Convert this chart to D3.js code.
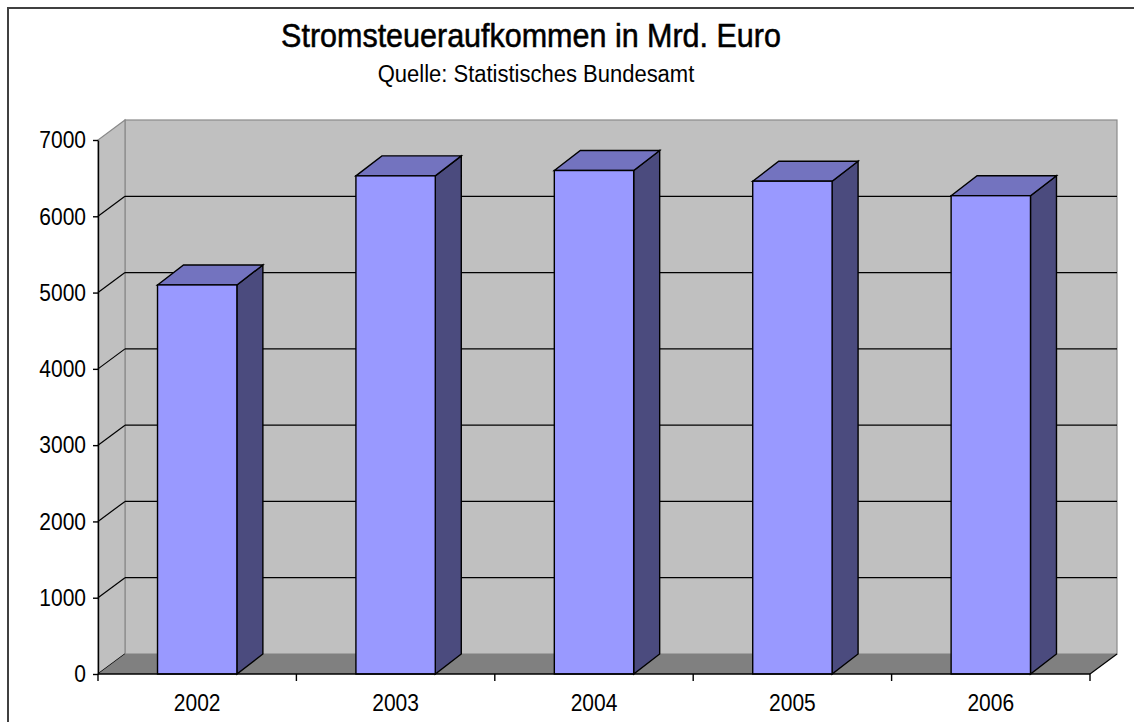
<!DOCTYPE html>
<html>
<head>
<meta charset="utf-8">
<script src="https://cdn.jsdelivr.net/npm/d3@7"></script>
<style>
  body { margin: 0; background: #fff; }
  text { font-family: "Liberation Sans", Arial, sans-serif; }
</style>
</head>
<body>
<div id="chart"></div>
<script>
// data
var years = ["2002", "2003", "2004", "2005", "2006"];
var values = [5100, 6530, 6600, 6460, 6270];
var yTicks = [0, 1000, 2000, 3000, 4000, 5000, 6000, 7000];

var W = 1134, H = 722;
var x0 = 98, x1 = 1090;   // front edge of the floor
var yBase = 674, yTop = 140;
var dx = 27, dy = -20;     // 3d depth of the walls
var bdx = 26, bdy = -20;   // 3d depth of the bars
var stretch = 1.15;        // the original picture is a bit taller than wide

var wallColor = "#c0c0c0", floorColor = "#808080";
var frontColor = "#9999ff", topColor = "#7373bf", sideColor = "#4b4b7e";

var svg = d3.select("#chart").append("svg")
    .attr("width", W)
    .attr("height", H);

// outer frame
svg.append("rect")
    .attr("x", 8).attr("y", 8)
    .attr("width", W + 20).attr("height", H + 20)
    .attr("fill", "none")
    .attr("stroke", "#404040")
    .attr("stroke-width", 2);

var x = d3.scaleBand().domain(years).range([x0, x1]).padding(0);
var y = d3.scaleLinear().domain([0, 7000]).range([yBase, yTop]);
var barW = x.bandwidth() / 2.5;

function pts(a) { return a.map(function(p) { return p.join(","); }).join(" "); }

// back wall
svg.append("rect")
    .attr("x", x0 + dx).attr("y", y(7000) + dy)
    .attr("width", x1 - x0).attr("height", y(0) - y(7000))
    .attr("fill", wallColor)
    .attr("stroke", "#8a8a8a").attr("stroke-width", 1.2);

// side wall
svg.append("polygon")
    .attr("points", pts([[x0, y(0)], [x0, y(7000)], [x0 + dx, y(7000) + dy], [x0 + dx, y(0) + dy]]))
    .attr("fill", wallColor)
    .attr("stroke", "#8a8a8a").attr("stroke-width", 1.2);

// gridlines: back wall + side wall
var grid = yTicks.filter(function(d) { return d > 0 && d < 7000; });
svg.selectAll("line.gridBack")
    .data(grid).enter().append("line")
    .attr("class", "gridBack")
    .attr("x1", x0 + dx).attr("x2", x1 + dx)
    .attr("y1", function(d) { return y(d) + dy; })
    .attr("y2", function(d) { return y(d) + dy; })
    .attr("stroke", "#000").attr("stroke-width", 1.3);
svg.selectAll("line.gridSide")
    .data(grid.concat([0])).enter().append("line")
    .attr("class", "gridSide")
    .attr("x1", x0).attr("x2", x0 + dx)
    .attr("y1", function(d) { return y(d); })
    .attr("y2", function(d) { return y(d) + dy; })
    .attr("stroke", "#000").attr("stroke-width", 1.2);

// floor
svg.append("polygon")
    .attr("points", pts([[x0, y(0)], [x1, y(0)], [x1 + dx, y(0) + dy], [x0 + dx, y(0) + dy]]))
    .attr("fill", floorColor);
svg.append("line")
    .attr("x1", x1).attr("y1", y(0))
    .attr("x2", x1 + dx).attr("y2", y(0) + dy)
    .attr("stroke", "#000").attr("stroke-width", 1.2);

// bars
var bars = svg.selectAll("g.bar")
    .data(years.map(function(d, i) { return { year: d, v: values[i] }; }))
    .enter().append("g")
    .attr("class", "bar")
    .attr("stroke", "#000")
    .attr("stroke-width", 1.4)
    .attr("stroke-linejoin", "miter");

function bx(d) { return x(d.year) + (x.bandwidth() - barW) / 2; }

bars.append("polygon")   // side
    .attr("points", function(d) {
        var l = bx(d) + barW, t = y(d.v), b = y(0);
        return pts([[l, b], [l, t], [l + bdx, t + bdy], [l + bdx, b + bdy]]);
    })
    .attr("fill", sideColor);
bars.append("polygon")   // top
    .attr("points", function(d) {
        var l = bx(d), t = y(d.v);
        return pts([[l, t], [l + barW, t], [l + barW + bdx, t + bdy], [l + bdx, t + bdy]]);
    })
    .attr("fill", topColor);
bars.append("rect")      // front
    .attr("x", bx)
    .attr("y", function(d) { return y(d.v); })
    .attr("width", barW)
    .attr("height", function(d) { return y(0) - y(d.v); })
    .attr("fill", frontColor);

// y axis
var yAxis = svg.append("g")
    .attr("transform", "translate(" + x0 + ",0)")
    .call(d3.axisLeft(y).tickValues(yTicks).tickSize(5).tickSizeOuter(0).tickPadding(7).tickFormat(d3.format("d")));
yAxis.select(".domain").attr("stroke", "#000").attr("stroke-width", 1.4);
yAxis.selectAll(".tick line").attr("stroke", "#000").attr("stroke-width", 1.4);
yAxis.selectAll(".tick text")
    .attr("font-family", "Liberation Sans, Arial, sans-serif")
    .attr("font-size", 21)
    .attr("fill", "#000")
    .attr("transform", "scale(1," + stretch + ")");

// x axis: ticks on category boundaries, labels in the middle
var xEdges = years.map(function(d) { return x(d); }).concat([x1]);
svg.append("line")
    .attr("x1", x0).attr("x2", x1)
    .attr("y1", y(0)).attr("y2", y(0))
    .attr("stroke", "#000").attr("stroke-width", 1.4);
svg.selectAll("line.xtick")
    .data(xEdges).enter().append("line")
    .attr("class", "xtick")
    .attr("x1", function(d) { return d; }).attr("x2", function(d) { return d; })
    .attr("y1", y(0)).attr("y2", y(0) + 7)
    .attr("stroke", "#000").attr("stroke-width", 1.4);
svg.selectAll("text.xlab")
    .data(years).enter().append("text")
    .attr("class", "xlab")
    .attr("transform", function(d) {
        return "translate(" + (x(d) + x.bandwidth() / 2) + ",711) scale(1," + stretch + ")";
    })
    .attr("text-anchor", "middle")
    .attr("font-size", 21)
    .text(function(d) { return d; });

// titles
svg.append("text")
    .attr("transform", "translate(531,47) scale(1,1.1)")
    .attr("text-anchor", "middle")
    .attr("font-size", 30.5)
    .attr("stroke", "#000")
    .attr("stroke-width", 0.5)
    .text("Stromsteueraufkommen in Mrd. Euro");
svg.append("text")
    .attr("transform", "translate(536,82) scale(1,1.05)")
    .attr("text-anchor", "middle")
    .attr("font-size", 22)
    .text("Quelle: Statistisches Bundesamt");
</script>
</body>
</html>
